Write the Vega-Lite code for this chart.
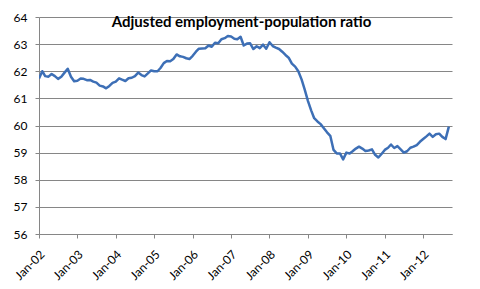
{
  "$schema": "https://vega.github.io/schema/vega-lite/v6.json",
  "autosize": "none",
  "width": 413,
  "height": 217,
  "padding": {"left": 39, "top": 17, "right": 28, "bottom": 55},
  "background": "white",
  "title": {
    "text": "Adjusted employment-population ratio",
    "font": "Lato",
    "fontSize": 15,
    "fontWeight": "bold",
    "color": "#000000",
    "anchor": "middle",
    "baseline": "alphabetic",
    "offset": 0,
    "dx": -4,
    "dy": 31
  },
  "data": {
    "values": [
      {"date": "2002-01-01", "ratio": 61.73}, {"date": "2002-02-01", "ratio": 62.0}, {"date": "2002-03-01", "ratio": 61.82},
      {"date": "2002-04-01", "ratio": 61.8}, {"date": "2002-05-01", "ratio": 61.9}, {"date": "2002-06-01", "ratio": 61.82},
      {"date": "2002-07-01", "ratio": 61.72}, {"date": "2002-08-01", "ratio": 61.8}, {"date": "2002-09-01", "ratio": 61.95},
      {"date": "2002-10-01", "ratio": 62.09}, {"date": "2002-11-01", "ratio": 61.8}, {"date": "2002-12-01", "ratio": 61.63},
      {"date": "2003-01-01", "ratio": 61.65}, {"date": "2003-02-01", "ratio": 61.73}, {"date": "2003-03-01", "ratio": 61.72},
      {"date": "2003-04-01", "ratio": 61.67}, {"date": "2003-05-01", "ratio": 61.68}, {"date": "2003-06-01", "ratio": 61.62},
      {"date": "2003-07-01", "ratio": 61.58}, {"date": "2003-08-01", "ratio": 61.47}, {"date": "2003-09-01", "ratio": 61.44},
      {"date": "2003-10-01", "ratio": 61.37}, {"date": "2003-11-01", "ratio": 61.46}, {"date": "2003-12-01", "ratio": 61.57},
      {"date": "2004-01-01", "ratio": 61.62}, {"date": "2004-02-01", "ratio": 61.74}, {"date": "2004-03-01", "ratio": 61.69},
      {"date": "2004-04-01", "ratio": 61.64}, {"date": "2004-05-01", "ratio": 61.74}, {"date": "2004-06-01", "ratio": 61.76},
      {"date": "2004-07-01", "ratio": 61.82}, {"date": "2004-08-01", "ratio": 61.95}, {"date": "2004-09-01", "ratio": 61.86},
      {"date": "2004-10-01", "ratio": 61.81}, {"date": "2004-11-01", "ratio": 61.92}, {"date": "2004-12-01", "ratio": 62.03},
      {"date": "2005-01-01", "ratio": 62.0}, {"date": "2005-02-01", "ratio": 62.0}, {"date": "2005-03-01", "ratio": 62.12},
      {"date": "2005-04-01", "ratio": 62.3}, {"date": "2005-05-01", "ratio": 62.38}, {"date": "2005-06-01", "ratio": 62.37},
      {"date": "2005-07-01", "ratio": 62.45}, {"date": "2005-08-01", "ratio": 62.62}, {"date": "2005-09-01", "ratio": 62.55},
      {"date": "2005-10-01", "ratio": 62.53}, {"date": "2005-11-01", "ratio": 62.48}, {"date": "2005-12-01", "ratio": 62.45},
      {"date": "2006-01-01", "ratio": 62.57}, {"date": "2006-02-01", "ratio": 62.72}, {"date": "2006-03-01", "ratio": 62.83},
      {"date": "2006-04-01", "ratio": 62.84}, {"date": "2006-05-01", "ratio": 62.85}, {"date": "2006-06-01", "ratio": 62.95},
      {"date": "2006-07-01", "ratio": 62.9}, {"date": "2006-08-01", "ratio": 63.05}, {"date": "2006-09-01", "ratio": 63.03},
      {"date": "2006-10-01", "ratio": 63.18}, {"date": "2006-11-01", "ratio": 63.22}, {"date": "2006-12-01", "ratio": 63.3},
      {"date": "2007-01-01", "ratio": 63.28}, {"date": "2007-02-01", "ratio": 63.2}, {"date": "2007-03-01", "ratio": 63.18},
      {"date": "2007-04-01", "ratio": 63.27}, {"date": "2007-05-01", "ratio": 62.95}, {"date": "2007-06-01", "ratio": 63.02},
      {"date": "2007-07-01", "ratio": 63.03}, {"date": "2007-08-01", "ratio": 62.82}, {"date": "2007-09-01", "ratio": 62.92},
      {"date": "2007-10-01", "ratio": 62.85}, {"date": "2007-11-01", "ratio": 62.98}, {"date": "2007-12-01", "ratio": 62.83},
      {"date": "2008-01-01", "ratio": 63.07}, {"date": "2008-02-01", "ratio": 62.93}, {"date": "2008-03-01", "ratio": 62.87},
      {"date": "2008-04-01", "ratio": 62.82}, {"date": "2008-05-01", "ratio": 62.72}, {"date": "2008-06-01", "ratio": 62.6},
      {"date": "2008-07-01", "ratio": 62.5}, {"date": "2008-08-01", "ratio": 62.28}, {"date": "2008-09-01", "ratio": 62.17},
      {"date": "2008-10-01", "ratio": 62.0}, {"date": "2008-11-01", "ratio": 61.7}, {"date": "2008-12-01", "ratio": 61.32},
      {"date": "2009-01-01", "ratio": 60.9}, {"date": "2009-02-01", "ratio": 60.55}, {"date": "2009-03-01", "ratio": 60.27},
      {"date": "2009-04-01", "ratio": 60.15}, {"date": "2009-05-01", "ratio": 60.05}, {"date": "2009-06-01", "ratio": 59.9},
      {"date": "2009-07-01", "ratio": 59.75}, {"date": "2009-08-01", "ratio": 59.62}, {"date": "2009-09-01", "ratio": 59.1},
      {"date": "2009-10-01", "ratio": 58.97}, {"date": "2009-11-01", "ratio": 58.97}, {"date": "2009-12-01", "ratio": 58.75},
      {"date": "2010-01-01", "ratio": 59.0}, {"date": "2010-02-01", "ratio": 58.97}, {"date": "2010-03-01", "ratio": 59.05},
      {"date": "2010-04-01", "ratio": 59.15}, {"date": "2010-05-01", "ratio": 59.22}, {"date": "2010-06-01", "ratio": 59.15},
      {"date": "2010-07-01", "ratio": 59.06}, {"date": "2010-08-01", "ratio": 59.08}, {"date": "2010-09-01", "ratio": 59.12},
      {"date": "2010-10-01", "ratio": 58.92}, {"date": "2010-11-01", "ratio": 58.82}, {"date": "2010-12-01", "ratio": 58.95},
      {"date": "2011-01-01", "ratio": 59.1}, {"date": "2011-02-01", "ratio": 59.18}, {"date": "2011-03-01", "ratio": 59.3},
      {"date": "2011-04-01", "ratio": 59.17}, {"date": "2011-05-01", "ratio": 59.24}, {"date": "2011-06-01", "ratio": 59.12},
      {"date": "2011-07-01", "ratio": 59.0}, {"date": "2011-08-01", "ratio": 59.05}, {"date": "2011-09-01", "ratio": 59.18},
      {"date": "2011-10-01", "ratio": 59.22}, {"date": "2011-11-01", "ratio": 59.28}, {"date": "2011-12-01", "ratio": 59.4},
      {"date": "2012-01-01", "ratio": 59.5}, {"date": "2012-02-01", "ratio": 59.6}, {"date": "2012-03-01", "ratio": 59.7},
      {"date": "2012-04-01", "ratio": 59.58}, {"date": "2012-05-01", "ratio": 59.68}, {"date": "2012-06-01", "ratio": 59.7},
      {"date": "2012-07-01", "ratio": 59.58}, {"date": "2012-08-01", "ratio": 59.5}, {"date": "2012-09-01", "ratio": 59.96}
    ]
  },
  "mark": {"type": "line", "color": "#3D6FB6", "strokeWidth": 2.5, "strokeJoin": "round", "clip": true},
  "encoding": {
    "x": {
      "field": "date",
      "type": "temporal",
      "scale": {"type": "utc", "domain": [{"year": 2002, "month": 1, "date": 1, "utc": true}, {"year": 2012, "month": 10, "date": 1, "utc": true}], "nice": false},
      "axis": {
        "title": null,
        "grid": false,
        "values": [
          {"year": 2002, "month": 1, "date": 1, "utc": true}, {"year": 2003, "month": 1, "date": 1, "utc": true},
          {"year": 2004, "month": 1, "date": 1, "utc": true}, {"year": 2005, "month": 1, "date": 1, "utc": true},
          {"year": 2006, "month": 1, "date": 1, "utc": true}, {"year": 2007, "month": 1, "date": 1, "utc": true},
          {"year": 2008, "month": 1, "date": 1, "utc": true}, {"year": 2009, "month": 1, "date": 1, "utc": true},
          {"year": 2010, "month": 1, "date": 1, "utc": true}, {"year": 2011, "month": 1, "date": 1, "utc": true},
          {"year": 2012, "month": 1, "date": 1, "utc": true}
        ],
        "labelExpr": "utcFormat(datum.value, '%b-%y')",
        "labelAngle": -45,
        "labelAlign": "right",
        "labelBaseline": "middle",
        "labelFont": "Lato",
        "labelFontSize": 12,
        "labelColor": "#000000",
        "labelPadding": 14,
        "labelOffset": 3,
        "labelFlush": false,
        "labelOverlap": false,
        "labelBound": false,
        "tickSize": 4,
        "tickColor": "#868686",
        "domainColor": "#868686",
        "domainWidth": 1
      }
    },
    "y": {
      "field": "ratio",
      "type": "quantitative",
      "scale": {"domain": [56, 64], "nice": false, "zero": false},
      "axis": {
        "title": null,
        "values": [56, 57, 58, 59, 60, 61, 62, 63, 64],
        "labelFont": "Lato",
        "labelFontSize": 12,
        "labelColor": "#000000",
        "labelPadding": 8,
        "tickSize": 4,
        "tickColor": "#868686",
        "domainColor": "#868686",
        "gridColor": "#868686",
        "gridWidth": 1,
        "gridOpacity": 1
      }
    }
  },
  "config": {
    "view": {"stroke": null}
  }
}
